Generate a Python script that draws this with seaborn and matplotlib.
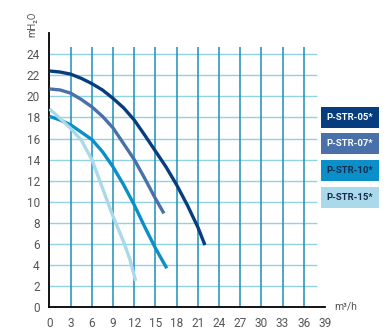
import numpy as np
import pandas as pd
import matplotlib
matplotlib.use("Agg")
import matplotlib.pyplot as plt
from matplotlib.patches import Rectangle
import seaborn as sns

# Pump performance curves: flow (m3/h) vs head (m H2O)
models = ["P-STR-05*", "P-STR-07*", "P-STR-10*", "P-STR-15*"]
flow_05 = [0, 1.5, 3, 4.5, 6, 7.5, 9, 10.5, 12, 13.5, 15, 16.5, 18, 19.5, 21, 22]
head_05 = [22.4, 22.3, 22.1, 21.7, 21.2, 20.6, 19.8, 18.9, 17.75, 16.3, 14.8, 13.3,
           11.6, 9.7, 7.6, 5.9]
flow_07 = [0, 1.5, 3, 4.5, 6, 7.5, 9, 10.5, 12, 13.5, 15, 16.2]
head_07 = [20.7, 20.6, 20.3, 19.7, 19.0, 18.1, 17.0, 15.5, 14.0, 12.2, 10.3, 8.9]
flow_10 = [0, 1.5, 3, 4.5, 6, 7.5, 9, 10.5, 12, 13.5, 15, 16.6]
head_10 = [18.1, 17.75, 17.3, 16.6, 15.9, 14.75, 13.3, 11.6, 9.7, 7.6, 5.6, 3.7]
flow_15 = [0, 1.5, 3, 4.5, 6, 7.5, 9, 10.5, 11.4, 12.2]
head_15 = [18.8, 17.9, 16.95, 15.85, 14.0, 11.3, 8.6, 6.2, 4.5, 2.5]

x_ticks = list(range(0, 40, 3))
y_ticks = list(range(0, 25, 2))

colors = ["#063d7e", "#4a70a9", "#0a8fc8", "#a9d9ea"]
text_colors = ["white", "white", "#142a4c", "#142a4c"]

frames = []
for name, fx, hy in zip(models,
                        [flow_05, flow_07, flow_10, flow_15],
                        [head_05, head_07, head_10, head_15]):
    frames.append(pd.DataFrame({"flow": fx, "head": hy, "model": name}))
df = pd.concat(frames, ignore_index=True)

sns.set_style("white")
plt.rcParams["font.family"] = ["Roboto", "DejaVu Sans"]

fig = plt.figure(figsize=(3.92, 3.31), dpi=100)
ax = fig.add_axes([49.5 / 392, 1 - 307.3 / 331, (325 - 49.5) / 392, (307.3 - 33) / 331])
ax.set_xlim(0, 39)
ax.set_ylim(0, 26)

# grid: light horizontal rules, darker vertical rules
ax.hlines(y_ticks[1:], 0, 37.8, colors="#93d2e2", linewidth=1.0, zorder=1)
ax.vlines(x_ticks[1:-1], 0, 24.7, colors="#1e8fb5", linewidth=1.1, zorder=1)

sns.lineplot(data=df, x="flow", y="head", hue="model", palette=colors,
             sort=False, estimator=None, linewidth=2.4, legend=False,
             ax=ax, zorder=3)
for line in ax.get_lines():
    line.set_solid_capstyle("butt")
    line.set_solid_joinstyle("round")

ax.set_xticks(x_ticks)
ax.set_yticks(y_ticks)
ax.tick_params(axis="both", direction="out", length=4, width=1.2, color="black",
               labelsize=8.5, labelcolor="#555555", pad=3)
for side in ["top", "right"]:
    ax.spines[side].set_visible(False)
for side in ["left", "bottom"]:
    ax.spines[side].set_color("black")
    ax.spines[side].set_linewidth(1.3)
ax.set_xlabel("")
ax.set_ylabel("")

fig.text(32 / 392, 1 - 24 / 331, "mH\u2082O", rotation=90, ha="center", va="center",
         fontsize=7, color="#555555")
fig.text(334 / 392, 1 - 306 / 331, "m\u00b3/h", ha="left", va="center",
         fontsize=7.5, color="#555555")

# model key boxes on the right
box_tops = [107, 133, 160, 187]
for name, top, fc, tc in zip(models, box_tops, colors, text_colors):
    x0, x1, h = 321, 379, 21
    fig.patches.append(Rectangle((x0 / 392, 1 - (top + h) / 331), (x1 - x0) / 392, h / 331,
                                 transform=fig.transFigure, facecolor=fc,
                                 edgecolor="none"))
    fig.text((x0 + x1) / 2 / 392, 1 - (top + h / 2) / 331, name, ha="center",
             va="center", fontsize=6.8, fontweight="bold", color=tc)

fig.savefig("out.png", dpi=100, facecolor="white")
